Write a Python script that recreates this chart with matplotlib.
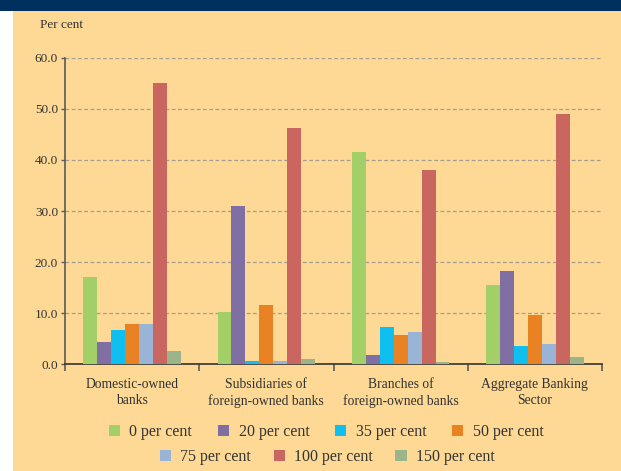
import matplotlib.pyplot as plt
import numpy as np
from matplotlib.patches import Patch, Rectangle

# bank groups and risk-weight buckets
groups = ['Domestic-owned\nbanks', 'Subsidiaries of\nforeign-owned banks',
          'Branches of\nforeign-owned banks', 'Aggregate Banking\nSector']
buckets = ['0 per cent', '20 per cent', '35 per cent', '50 per cent',
           '75 per cent', '100 per cent', '150 per cent']

w0 = [17.0, 10.2, 41.6, 15.5]
w20 = [4.4, 31.0, 1.8, 18.2]
w35 = [6.7, 0.6, 7.3, 3.6]
w50 = [7.9, 11.6, 5.7, 9.7]
w75 = [7.9, 0.6, 6.3, 4.0]
w100 = [55.0, 46.2, 38.1, 49.0]
w150 = [2.6, 1.1, 0.4, 1.4]
series = [w0, w20, w35, w50, w75, w100, w150]

colors = ['#A3CF68', '#7F6FA3', '#0FBFEF', '#E98223', '#9AB4D8', '#C9665F', '#9BB48A']
bg = '#FDD995'

plt.rcParams['font.family'] = ['Liberation Serif', 'DejaVu Serif']

fig = plt.figure(figsize=(6.21, 4.71), dpi=100, facecolor=bg)
fig.patches.append(Rectangle((0, 0), 13 / 621, 1, transform=fig.transFigure,
                             facecolor='white', edgecolor='none', zorder=0))
fig.patches.append(Rectangle((0, 1 - 11 / 471), 1, 11 / 471, transform=fig.transFigure,
                             facecolor='#003060', edgecolor='none', zorder=0))

ax = fig.add_axes([65 / 621, 1 - 364.3 / 471, (602 - 65) / 621, (364.3 - 57.7) / 471])
ax.set_facecolor(bg)

x = np.arange(len(groups))
bw = 0.104
for j, (vals, c) in enumerate(zip(series, colors)):
    ax.bar(x + (j - 3) * bw, vals, bw, color=c, label=buckets[j], zorder=3)

ax.set_xlim(-0.5, 3.5)
ax.set_ylim(0, 60)
ax.set_yticks(np.arange(0, 61, 10))
ax.set_yticklabels(['%.1f' % v for v in np.arange(0, 61, 10)], fontsize=9.5, color='#333333')
ax.yaxis.grid(True, linestyle=(0, (3, 2)), color='#A39E8E', linewidth=0.9, zorder=1)

# category labels centred, ticks on the group boundaries
ax.set_xticks(np.arange(-0.5, 4, 1))
ax.set_xticklabels([])
ax.set_xticks(x, minor=True)
ax.set_xticklabels(groups, minor=True, fontsize=9.8, color='#333333', linespacing=1.25)
ax.tick_params(axis='x', which='minor', length=0, pad=10)
ax.tick_params(axis='x', which='major', length=5, width=1.2, color='#5a5a5a', direction='out')
ax.tick_params(axis='y', length=3, width=1, color='#5a5a5a', direction='out', pad=2)

for s in ['top', 'right']:
    ax.spines[s].set_visible(False)
ax.spines['left'].set_color('#5a5a5a')
ax.spines['left'].set_linewidth(1.2)
ax.spines['bottom'].set_color('#333333')
ax.spines['bottom'].set_linewidth(1.2)

fig.text(40 / 621, 1 - 25 / 471, 'Per cent', fontsize=9.5, color='#333333', va='center')

handles = [Patch(facecolor=c, edgecolor='none') for c in colors]
leg_kw = dict(frameon=False, fontsize=11.5, handlelength=0.7, handleheight=0.7,
              handletextpad=0.6, labelcolor='#333333')
fig.legend(handles[:4], buckets[:4], ncol=4, loc='center', columnspacing=1.6,
           bbox_to_anchor=(0.525, 1 - 432 / 471), **leg_kw)
fig.legend(handles[4:], buckets[4:], ncol=3, loc='center', columnspacing=1.4,
           bbox_to_anchor=(0.527, 1 - 457 / 471), **leg_kw)

fig.savefig('out.png', dpi=100, facecolor=bg)
